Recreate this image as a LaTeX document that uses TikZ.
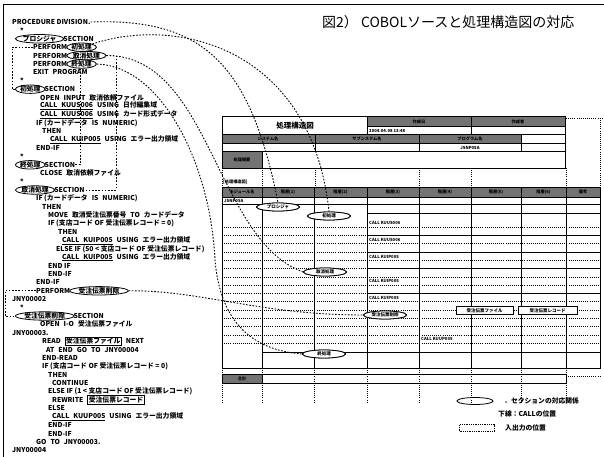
\documentclass[tikz,border=0pt]{standalone}
\usepackage{fontspec}
\setmainfont{Noto Sans CJK JP}
\usetikzlibrary{shapes.geometric}
\setlength{\fboxsep}{0.7pt}
\setlength{\fboxrule}{0.7pt}
\newcommand{\gp}{\hspace{4pt}}
\begin{document}
\begin{tikzpicture}[x=1pt,y=-1pt,
  code/.style={anchor=west,inner sep=0pt,font=\bfseries\fontsize{6.8}{7}\selectfont},
  sell/.style={ellipse,draw,line width=0.8pt,anchor=west,inner xsep=0.3pt,inner ysep=-0.3pt,font=\bfseries\fontsize{6.8}{7}\selectfont},
  conn/.style={line width=0.9pt,dash pattern=on 1.6pt off 1.6pt},
  tell/.style={ellipse,draw,line width=0.8pt,fill=white,minimum width=43pt,minimum height=8pt,inner sep=0pt,font=\bfseries\fontsize{4.5}{5}\selectfont},
  tline/.style={line width=1pt},
  thinl/.style={line width=0.7pt},
  drow/.style={line width=0.55pt,dash pattern=on 0.8pt off 1.3pt},
  hatch/.style={fill=black!55},
  tinytxt/.style={inner sep=0pt,font=\bfseries\fontsize{4.2}{5}\selectfont},
  legtxt/.style={anchor=west,inner sep=0pt,font=\bfseries\fontsize{6.8}{8}\selectfont},
  iobox/.style={draw,line width=0.7pt,fill=white,minimum height=8pt,inner sep=0pt,font=\bfseries\fontsize{4.5}{5}\selectfont},
]
\useasboundingbox (0,0) rectangle (604,457);
% frame
\draw[line width=1pt] (3,457) -- (3,5) -- (604,5);
% title
\node[anchor=west,inner sep=0pt,font=\fontsize{14}{16}\selectfont] (title) at (322,22) {図2）\ COBOLソースと処理構造図の対応};

% ---------------- top block ----------------
\fill[hatch] (367,117) rectangle (565,126);
\fill[hatch] (222,135) rectangle (521,143);
\fill[hatch] (222,152) rectangle (262,168);
\draw[tline] (222,117) rectangle (565,168);
\draw[tline] (367,117) -- (367,135);
\draw[tline] (471,117) -- (471,135);
\draw[thinl] (367,126) -- (565,126);
\draw[tline] (222,135) -- (565,135);
\draw[thinl] (222,143) -- (565,143);
\draw[tline] (315,135) -- (315,152);
\draw[tline] (419,135) -- (419,152);
\draw[tline] (521,135) -- (521,152);
\draw[tline] (222,152) -- (565,152);
\draw[tline] (262,152) -- (262,168);
\node[inner sep=0pt,font=\bfseries\fontsize{7.5}{8}\selectfont] (hdr) at (295,126) {処理構造図};
\node[tinytxt] at (419,121.5) {作成日};
\node[tinytxt] at (518,121.5) {作成者};
\node[tinytxt,anchor=west] at (369,130.5) {2004.04.08 13:48};
\node[tinytxt] at (268,139) {システム名};
\node[tinytxt] at (367,139) {サブシステム名};
\node[tinytxt] at (470,139) {プログラム名};
\node[tinytxt] at (470,147.5) {JSNP05A};
\node[tinytxt] at (242,160) {処理概要};
% dotted artifacts
\draw[drow] (566,118) -- (604,118);
\draw[drow] (600,118) -- (600,187);
\foreach \x in {222,262,315,419,471,566} \draw[drow] (\x,168) -- (\x,187);
\node[tinytxt,anchor=west] at (223,182) {[処理構造図]};

% ---------------- main table ----------------
\fill[hatch] (222,187) rectangle (600,197);
\foreach \y in {227,235.3,243.6,251.9,260.2,268.5,276.8,285.1,293.4,301.7,310,318.3,326.6,334.9,343.2}
  \draw[drow] (222,\y) -- (600,\y);
\foreach \y in {213,235.3,251.9,268.5,293.4}
  \draw[thinl] (367,\y) -- (600,\y);
\draw[thinl] (262,352) -- (600,352);
\draw[tline] (222,187) rectangle (600,368);
\foreach \x in {262,314,367,419,471,521,566} \draw[tline] (\x,187) -- (\x,368);
\draw[tline] (222,197) -- (600,197);
\draw[thinl] (222,204) -- (600,204);
\node[tinytxt] at (242,192) {モジュール名};
\node[tinytxt] at (288,192) {階層(1)};
\node[tinytxt] at (340.5,192) {階層(2)};
\node[tinytxt] at (393,192) {階層(3)};
\node[tinytxt] at (445,192) {階層(4)};
\node[tinytxt] at (496,192) {階層(5)};
\node[tinytxt] at (543.5,192) {階層(6)};
\node[tinytxt] at (583,192) {備考};
\node[tinytxt,anchor=west] at (224,200.5) {JSNP05A};
\node[tinytxt,anchor=west] at (369,223) {CALL KUUS006};
\node[tinytxt,anchor=west] at (369,240) {CALL KUUS006};
\node[tinytxt,anchor=west] at (369,257) {CALL KUIP005};
\node[tinytxt,anchor=west] at (369,281) {CALL KUIP005};
\node[tinytxt,anchor=west] at (369,298) {CALL KUIP005};
\node[tinytxt,anchor=west] at (421,339) {CALL KUUP005};
% bottom box
\foreach \x in {222,262,314,367,419,471,521,566} \draw[drow] (\x,368) -- (\x,402);
\fill[hatch] (222,374) rectangle (262,383);
\draw[tline] (222,374) rectangle (566,383);
\draw[tline] (262,374) -- (262,383);
\node[tinytxt] at (242,378.5) {合計};
\draw[drow] (566,376) -- (600,376);

% ---------------- COBOL source ----------------
\node[code] (pd) at (12,22) {PROCEDURE DIVISION.};
\node[code] at (20,30.4) {*};
\node[sell] (e0) at (15,38.8) {プロシジャ};
\node[code] (e0t) at ([xshift=-1]e0.east) {SECTION};
\node[code] (pw1) at (33,47.2) {PERFORM};
\node[sell] (e1) at ([xshift=-1]pw1.east) {初処理};
\node[code] (pw2) at (33,55.6) {PERFORM};
\node[sell] (e2) at ([xshift=-1]pw2.east) {取消処理};
\node[code] (pw3) at (33,64) {PERFORM};
\node[sell] (e3) at ([xshift=-1]pw3.east) {終処理};
\node[code] at (33,72.4) {EXIT\gp PROGRAM};
\node[code] at (20,80.8) {*};
\node[sell] (s1) at (15,89.2) {初処理};
\node[code] (s1t) at ([xshift=-1]s1.east) {SECTION};
\node[code] at (40,97.6) {OPEN\gp INPUT\gp 取消依頼ファイル};
\node[code] at (40,106) {\underline{CALL\gp KUUS006}\gp USING\gp 日付編集域};
\node[code] at (40,114.4) {\underline{CALL\gp KUUS006}\gp USING\gp カード形式データ};
\node[code] at (36,122.8) {IF (カードデータ\gp IS\gp NUMERIC)};
\node[code] at (42,131.2) {THEN};
\node[code] at (50,139.6) {\underline{CALL\gp KUIP005}\gp USING\gp エラー出力領域};
\node[code] at (36,148) {END-IF};
\node[code] at (20,156.4) {*};
\node[sell] (s3) at (15,164.8) {終処理};
\node[code] (s3t) at ([xshift=-1]s3.east) {SECTION};
\node[code] at (40,173.2) {CLOSE\gp 取消依頼ファイル};
\node[code] at (20,181.6) {*};
\node[sell] (s2) at (15,190) {取消処理};
\node[code] (s2t) at ([xshift=-1]s2.east) {SECTION};
\node[code] at (36,198.4) {IF (カードデータ\gp IS\gp NUMERIC)};
\node[code] at (42,206.8) {THEN};
\node[code] at (48,215.2) {MOVE\gp 取消受注伝票番号\gp TO\gp カードデータ};
\node[code] at (48,223.6) {IF (支店コード OF 受注伝票レコード = 0)};
\node[code] at (58,232) {THEN};
\node[code] at (62,240.4) {\underline{CALL\gp KUIP005}\gp USING\gp エラー出力領域};
\node[code] at (56,248.8) {ELSE IF (50 < 支店コード OF 受注伝票レコード)};
\node[code] at (62,257.2) {\underline{CALL\gp KUIP005}\gp USING\gp エラー出力領域};
\node[code] at (48,265.6) {END IF};
\node[code] at (48,274) {END-IF};
\node[code] at (36,282.4) {END-IF};
\node[code] (pw4) at (36,290.8) {PERFORM};
\node[sell] (e4) at ([xshift=-1]pw4.east) {受注伝票削除};
\node[code] at (12,299.2) {JNY00002};
\node[code] at (20,307.6) {*};
\node[sell] (s4) at (15,316) {受注伝票削除};
\node[code] (s4t) at ([xshift=-1]s4.east) {SECTION};
\node[code] at (40,324.4) {OPEN\gp I-O\gp 受注伝票ファイル};
\node[code] at (12,332.8) {JNY00003.};
\node[code] at (42,341.2) {READ\gp\fbox{受注伝票ファイル}\gp NEXT};
\node[code] at (46,349.6) {AT\gp END\gp GO\gp TO\gp JNY00004};
\node[code] at (42,358) {END-READ};
\node[code] at (42,366.4) {IF (支店コード OF 受注伝票レコード = 0)};
\node[code] at (48,374.8) {THEN};
\node[code] at (52,383.2) {CONTINUE};
\node[code] at (48,391.6) {ELSE IF (1 < 支店コード OF 受注伝票レコード)};
\node[code] at (52,400) {REWRITE\gp\fbox{受注伝票レコード}};
\node[code] at (48,408.4) {ELSE};
\node[code] at (52,416.8) {\underline{CALL\gp KUUP005}\gp USING\gp エラー出力領域};
\node[code] at (48,425.2) {END-IF};
\node[code] at (48,433.6) {END-IF};
\node[code] at (36,442) {GO\gp TO\gp JNY00003.};
\node[code] at (12,450.4) {JNY00004};

% ---------------- connectors ----------------
\coordinate (k2) at (116,0);
\coordinate (k3) at (80,0);
\draw[conn] (pw1.west) -- ++(-21,0) |- (s1.west);
\draw[conn] (e2.east) -| (k2 |- s2t.east) -- (s2t.east);
\draw[conn] (k3 |- e3.south) -- (k3 |- s3t.east) -- (s3t.east);
\draw[conn] (pw4.west) -- ++(-31,0) |- (s4.west);

\node[tell] (tp) at (278,207) {プロシジャ};
\node[tell] (t1) at (329,216) {初処理};
\node[tell] (t2) at (325,272) {取消処理};
\node[tell] (t4) at (385,315) {受注伝票削除};
\node[tell] (t3) at (324,354) {終処理};
\draw[conn] (pd.east) .. controls (200,18) and (250,60) .. (tp.north);
\draw[conn] (e1.north east) .. controls (180,15) and (312,50) .. (t1.north);
\draw[conn] (e2.east) .. controls (210,55) and (215,240) .. (t2.west);
\draw[conn] (e3.east) .. controls (160,66) and (210,160) .. (215,260) .. controls (220,320) and (250,350) .. (t3.west);
\draw[conn] (e4.east) .. controls (200,290) and (260,315) .. (t4.west);
% ellipses on top of the connectors
\node[tell] at (tp) {プロシジャ};
\node[tell] at (t1) {初処理};
\node[tell] at (t2) {取消処理};
\node[tell] at (t4) {受注伝票削除};
\node[tell] at (t3) {終処理};
\node[iobox,minimum width=57pt] (io1) at (484.5,310.5) {受注伝票ファイル};
\node[iobox,minimum width=59pt] (io2) at (547.5,310.5) {受注伝票レコード};

% ---------------- legend ----------------
\node[ellipse,draw,line width=0.8pt,minimum width=36pt,minimum height=7pt,inner sep=0pt] (lg1) at (475,401) {};
\node[legtxt] (lg1t) at (504,401) {．セクションの対応関係};
\node[legtxt] (lg2t) at (498,414) {下線：CALLの位置};
\node[draw,line width=0.6pt,dash pattern=on 0.8pt off 1pt,minimum width=35pt,minimum height=7pt,inner sep=0pt] (lg3) at (477,428) {};
\node[legtxt] (lg3t) at (505,428) {入出力の位置};
\end{tikzpicture}
\end{document}
